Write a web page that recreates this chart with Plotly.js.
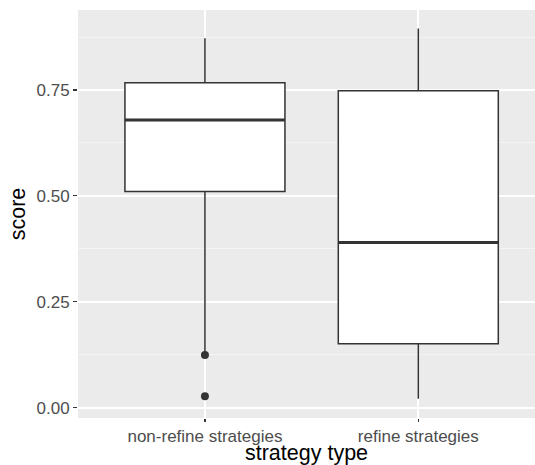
<!DOCTYPE html>
<html>
<head>
<meta charset="utf-8">
<script src="https://cdn.plot.ly/plotly-3.0.1.min.js"></script>
<style>html,body{margin:0;padding:0;background:#fff;}#chart{width:535px;height:465px;}</style>
</head>
<body>
<div id="chart"></div>
<script>
// ---- data ----
const categories = ['non-refine strategies', 'refine strategies'];
const lowerWhisker = [0.126, 0.021];
const q1Values = [0.510, 0.151];
const medianValues = [0.679, 0.390];
const q3Values = [0.767, 0.748];
const upperWhisker = [0.872, 0.895];
const outlierCategory = ['non-refine strategies', 'non-refine strategies'];
const outlierValues = [0.124, 0.027];
const yTickVals = [0, 0.25, 0.5, 0.75];

// ---- styling ----
const boxWidth = 0.75;
const edge = '#333333';
const pos = c => categories.indexOf(c);

const traces = [{
  type: 'box',
  x: categories.map((c, i) => i),
  q1: q1Values,
  median: medianValues,
  q3: q3Values,
  lowerfence: lowerWhisker,
  upperfence: upperWhisker,
  width: boxWidth,
  whiskerwidth: 0,
  fillcolor: '#ffffff',
  line: {color: edge, width: 1.5},
  boxpoints: false,
  hoverinfo: 'skip',
  showlegend: false
}];

// thicker median lines (ggplot fatten)
categories.forEach((c, i) => {
  traces.push({
    type: 'scatter', mode: 'lines',
    x: [i - boxWidth / 2, i + boxWidth / 2],
    y: [medianValues[i], medianValues[i]],
    line: {color: edge, width: 3},
    hoverinfo: 'skip', showlegend: false
  });
});

traces.push({
  type: 'scatter', mode: 'markers',
  x: outlierCategory.map(pos),
  y: outlierValues,
  marker: {color: edge, size: 8},
  hoverinfo: 'skip', showlegend: false
});

const font = 'Liberation Sans, Arial, Helvetica, sans-serif';

const layout = {
  width: 535, height: 465,
  margin: {l: 78, r: 0, t: 10, b: 47},
  paper_bgcolor: '#ffffff',
  plot_bgcolor: '#EBEBEB',
  font: {family: font},
  showlegend: false,
  xaxis: {
    range: [-0.595, 1.547],
    tickmode: 'array',
    tickvals: categories.map((c, i) => i),
    ticktext: categories,
    showgrid: true, gridcolor: '#ffffff', gridwidth: 2,
    zeroline: false, showline: false,
    ticks: 'outside', ticklen: 3, tickwidth: 1.2, tickcolor: edge,
    tickfont: {size: 17, color: '#4D4D4D', family: font},
    title: {text: 'strategy type', font: {size: 21.5, color: '#000000', family: font}, standoff: 4}
  },
  yaxis: {
    range: [-0.0246, 0.9388],
    tickmode: 'array',
    tickvals: yTickVals,
    tickformat: '.2f',
    showgrid: true, gridcolor: '#ffffff', gridwidth: 2,
    minor: {dtick: 0.125, tick0: 0.125, showgrid: true, gridcolor: '#F4F4F4', gridwidth: 1, ticks: ''},
    zeroline: false, showline: false,
    ticks: 'outside', ticklen: 4, tickwidth: 1.2, tickcolor: edge,
    tickfont: {size: 17, color: '#4D4D4D', family: font},
    title: {text: 'score', font: {size: 21.5, color: '#000000', family: font}, standoff: 4}
  }
};

Plotly.newPlot('chart', traces, layout, {staticPlot: true, displayModeBar: false});
</script>
</body>
</html>
